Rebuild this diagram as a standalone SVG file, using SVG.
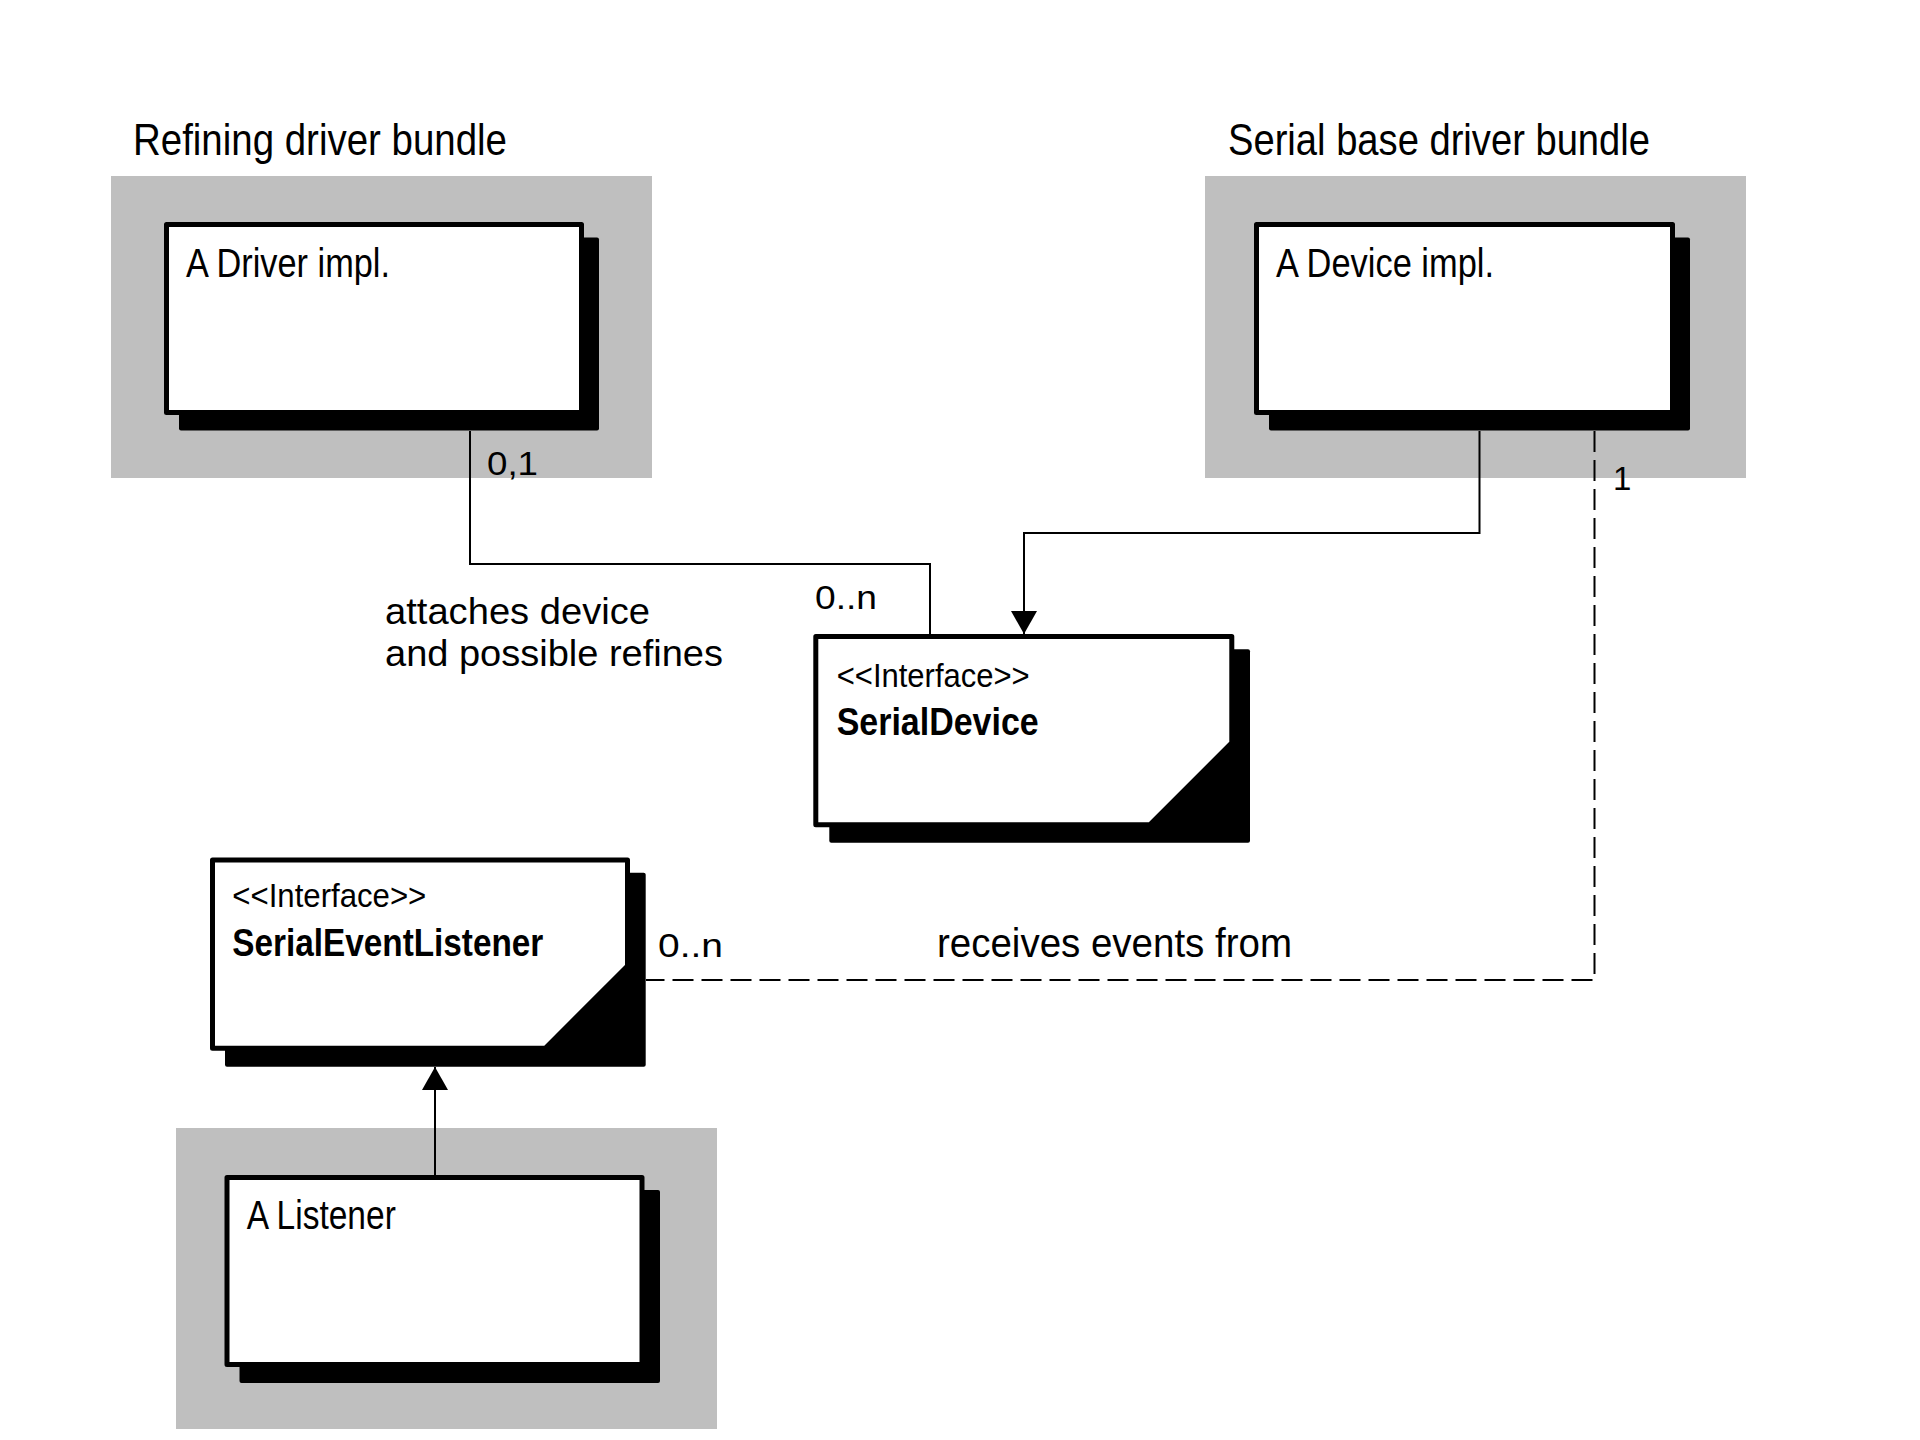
<svg xmlns="http://www.w3.org/2000/svg" width="1920" height="1440" viewBox="0 0 1920 1440">
<style>
.bundle{fill:#bfbfbf}
.shadow{fill:#000}
.box{fill:#fff;stroke:#000;stroke-width:5;stroke-linejoin:round}
.t{font-family:"Liberation Sans",Arial,sans-serif;fill:#000}
.title{font-size:44px}
.name{font-size:41px}
.st{font-size:33px}
.bold{font-size:38px;font-weight:bold}
.lbl{font-size:37px}
.lbl2{font-size:40px}
.mult{font-size:33px}
.conn{fill:none;stroke:#000;stroke-width:2}
.dash{stroke-dasharray:21 8}
</style>
<defs>
<marker id="arrow" markerUnits="userSpaceOnUse" markerWidth="24" markerHeight="26" refX="23" refY="13" orient="auto" viewBox="0 0 24 26">
<path d="M0,0 L23,13 L0,26 Z" fill="#000"/>
</marker>
</defs>
<rect width="1920" height="1440" fill="#fff"/>

<g id="bundle-refining">
<rect class="bundle" x="111" y="176" width="541" height="302"/>
<text class="t title" x="133" y="155" textLength="374" lengthAdjust="spacingAndGlyphs">Refining driver bundle</text>
</g>
<g id="bundle-serial-base">
<rect class="bundle" x="1205" y="176" width="541" height="302"/>
<text class="t title" x="1228" y="155" textLength="422" lengthAdjust="spacingAndGlyphs">Serial base driver bundle</text>
</g>
<g id="bundle-listener">
<rect class="bundle" x="176" y="1128" width="541" height="301"/>
</g>

<g id="node-driver">
<rect class="shadow" x="179" y="237.5" width="420" height="193" rx="2"/>
<rect class="box" x="166.5" y="224.5" width="415" height="188"/>
<text class="t name" x="186" y="277" textLength="204" lengthAdjust="spacingAndGlyphs">A Driver impl.</text>
</g>

<g id="node-device">
<rect class="shadow" x="1269" y="237.5" width="421" height="193" rx="2"/>
<rect class="box" x="1256.5" y="224.5" width="416" height="188"/>
<text class="t name" x="1276" y="277" textLength="218" lengthAdjust="spacingAndGlyphs">A Device impl.</text>
</g>

<g id="node-serialdevice">
<rect class="shadow" x="829.3" y="649.3" width="420.7" height="193.4" rx="2"/>
<path class="box" d="M815.8,636.5 H1231.8 V742.8 L1149.8,824.8 H815.8 Z"/>
<text class="t st" x="836.7" y="687" textLength="193" lengthAdjust="spacingAndGlyphs">&lt;&lt;Interface&gt;&gt;</text>
<text class="t bold" x="836.7" y="735" textLength="202" lengthAdjust="spacingAndGlyphs">SerialDevice</text>
</g>

<g id="node-serialeventlistener">
<rect class="shadow" x="225" y="872.7" width="420.7" height="194" rx="2"/>
<path class="box" d="M212.5,860 H627.5 V966 L545.3,1048.2 H212.5 Z"/>
<text class="t st" x="232.3" y="907" textLength="194" lengthAdjust="spacingAndGlyphs">&lt;&lt;Interface&gt;&gt;</text>
<text class="t bold" x="232.3" y="956" textLength="311" lengthAdjust="spacingAndGlyphs">SerialEventListener</text>
</g>

<g id="node-listener">
<rect class="shadow" x="239.5" y="1190" width="420.5" height="193" rx="2"/>
<rect class="box" x="227" y="1177.5" width="415" height="187"/>
<text class="t name" x="246.8" y="1229" textLength="149" lengthAdjust="spacingAndGlyphs">A Listener</text>
</g>

<g id="connectors">
<path class="conn" d="M470,431 V564 H930 V634"/>
<path class="conn" d="M1479.5,431 V533 H1024 V634" marker-end="url(#arrow)"/>
<path class="conn dash" d="M1594.5,431 V980 H646"/>
<path class="conn" d="M435,1175 V1067" marker-end="url(#arrow)"/>
<text class="t mult" x="487" y="475" textLength="51" lengthAdjust="spacingAndGlyphs">0,1</text>
<text class="t mult" x="815" y="609" textLength="62" lengthAdjust="spacingAndGlyphs">0..n</text>
<text class="t mult" x="1613" y="490">1</text>
<text class="t mult" x="658" y="957" textLength="65" lengthAdjust="spacingAndGlyphs">0..n</text>
<text class="t lbl" x="385" y="624" textLength="265" lengthAdjust="spacingAndGlyphs">attaches device</text>
<text class="t lbl" x="385" y="666" textLength="338" lengthAdjust="spacingAndGlyphs">and possible refines</text>
<text class="t lbl2" x="937" y="957" textLength="355" lengthAdjust="spacingAndGlyphs">receives events from</text>
</g>
</svg>
